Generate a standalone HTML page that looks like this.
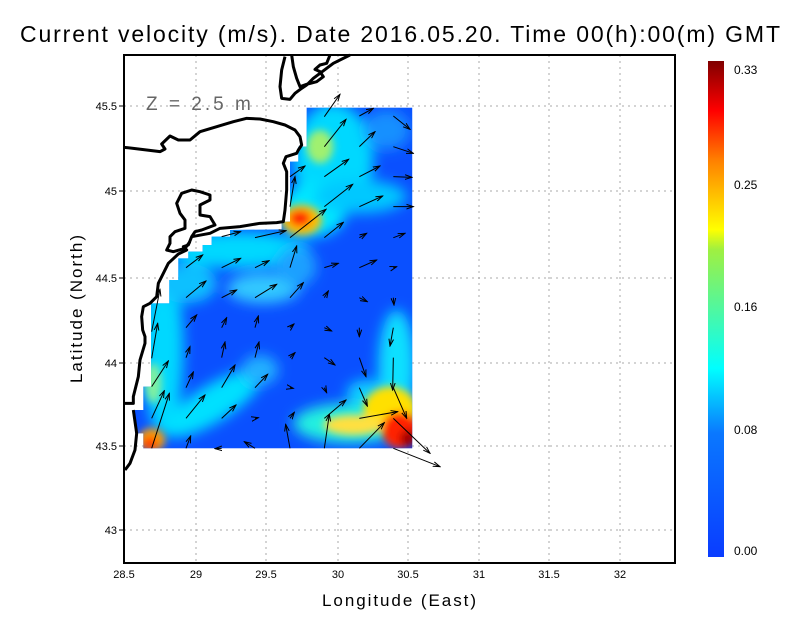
<!DOCTYPE html>
<html><head><meta charset="utf-8"><style>
html,body{margin:0;padding:0;background:#fff;}
svg{display:block;font-family:"Liberation Sans",sans-serif;}
</style></head><body>
<svg width="800" height="618" viewBox="0 0 800 618" xmlns="http://www.w3.org/2000/svg">
<defs>
<filter id="bl" x="-50%" y="-50%" width="200%" height="200%"><feGaussianBlur stdDeviation="20"/></filter>
<filter id="bl2" x="-50%" y="-50%" width="200%" height="200%"><feGaussianBlur stdDeviation="12"/></filter>
<clipPath id="dc"><polygon points="560,173 877,173 877,1195 70,1195 70,1150 45,1150 45,1080 70,1080 70,1010 93,1010 93,760 148,760 148,690 175,690 175,625 205,625 205,605 248,605 248,585 275,585 275,560 330,560 330,540 485,538 485,515 510,515 510,335 535,335 535,290 560,290"/></clipPath>
<marker id="ah" markerWidth="24" markerHeight="24" refX="21" refY="12" orient="auto" markerUnits="userSpaceOnUse"><path d="M0,5 L21,12 L0,19" fill="none" stroke="#000" stroke-width="3"/></marker>
<linearGradient id="cb" x1="0" y1="1" x2="0" y2="0">
<stop offset="0" stop-color="#0a3cff"/><stop offset="0.25" stop-color="#0a78ff"/><stop offset="0.38" stop-color="#00ffff"/><stop offset="0.62" stop-color="#a0f040"/><stop offset="0.66" stop-color="#ffff00"/><stop offset="0.8" stop-color="#ff8000"/><stop offset="0.9" stop-color="#ff0000"/><stop offset="1" stop-color="#800000"/></linearGradient>
</defs>
<text x="20" y="42" font-size="23" textLength="760" lengthAdjust="spacing" fill="#000">Current velocity (m/s). Date 2016.05.20. Time 00(h):00(m) GMT</text>
<g stroke="#aaa" stroke-dasharray="2,4" stroke-width="1">
<line x1="196" y1="55" x2="196" y2="563"/><line x1="266" y1="55" x2="266" y2="563"/><line x1="338" y1="55" x2="338" y2="563"/><line x1="408" y1="55" x2="408" y2="563"/><line x1="479" y1="55" x2="479" y2="563"/><line x1="549" y1="55" x2="549" y2="563"/><line x1="620" y1="55" x2="620" y2="563"/>
<line x1="124" y1="106" x2="675" y2="106"/><line x1="124" y1="191" x2="675" y2="191"/><line x1="124" y1="278" x2="675" y2="278"/><line x1="124" y1="363" x2="675" y2="363"/><line x1="124" y1="446" x2="675" y2="446"/><line x1="124" y1="530" x2="675" y2="530"/>
</g>
<g transform="translate(120,50) scale(0.33333)">
<g clip-path="url(#dc)">
<rect x="0" y="150" width="900" height="1060" fill="#0a50ff"/>
<g filter="url(#bl)">
<ellipse cx="640" cy="330" rx="120" ry="170" fill="#00d8ff"/>
<ellipse cx="800" cy="240" rx="70" ry="60" fill="#1890ff"/>
<ellipse cx="580" cy="480" rx="100" ry="80" fill="#00e8ff"/>
<ellipse cx="720" cy="440" rx="140" ry="50" fill="#00c8ff"/>
<ellipse cx="360" cy="600" rx="210" ry="55" fill="#00d8ff"/>
<ellipse cx="430" cy="715" rx="110" ry="45" fill="#30c8ff"/>
<ellipse cx="530" cy="650" rx="60" ry="60" fill="#1aa0ff"/>
<ellipse cx="130" cy="900" rx="60" ry="260" fill="#00d8ff"/>
<ellipse cx="200" cy="700" rx="90" ry="60" fill="#10c0ff"/>
<ellipse cx="280" cy="1060" rx="170" ry="55" fill="#00e0ff" transform="rotate(-32 280 1060)"/>
<ellipse cx="420" cy="960" rx="55" ry="45" fill="#20b0ff"/>
<ellipse cx="690" cy="1120" rx="170" ry="60" fill="#20f0e0"/>
<ellipse cx="830" cy="950" rx="55" ry="170" fill="#10e0ff"/>
<ellipse cx="740" cy="1030" rx="60" ry="40" fill="#10d0ff"/>
</g>
<g filter="url(#bl2)">
<ellipse cx="600" cy="290" rx="40" ry="50" fill="#a0f070"/>
<ellipse cx="545" cy="510" rx="60" ry="45" fill="#ffc000"/>
<ellipse cx="540" cy="505" rx="32" ry="24" fill="#ff2000"/>
<ellipse cx="810" cy="1080" rx="80" ry="70" fill="#ffe000"/>
<ellipse cx="700" cy="1125" rx="90" ry="30" fill="#ffe040"/>
<ellipse cx="840" cy="1140" rx="55" ry="55" fill="#ff2000"/>
<ellipse cx="865" cy="1165" rx="25" ry="25" fill="#a00000"/>
<ellipse cx="95" cy="1170" rx="40" ry="35" fill="#ffa000"/>
<ellipse cx="90" cy="1180" rx="22" ry="20" fill="#ff3000"/>
<ellipse cx="100" cy="1000" rx="25" ry="60" fill="#80f0a0"/>
</g>
</g>
<g fill="none" stroke="#000" stroke-width="9" stroke-linejoin="round">
<polyline points="12,292 40,295 80,300 120,305 135,297 125,282 150,258 175,270 210,270 240,245 290,230 340,215 380,205 420,207 460,215 495,225 525,240 540,260 545,285 535,300 530,310 498,320 490,340 500,365 500,420 495,480 490,515 470,518 420,520 360,530 300,535 270,550 215,560 205,585 190,590 200,600 175,612 145,640 125,680 115,700 110,740 90,760 70,770 65,800 68,840 75,860 75,880 60,930 55,980 40,1040 40,1060 10,1060"/>
<polyline points="40,1080 50,1150 45,1200 30,1240 15,1260"/>
<polyline points="215,560 225,545 245,540 285,525 270,500 240,495 240,465 270,450 270,435 240,425 215,420 185,430 170,460 180,490 195,510 195,535 165,545 150,560 150,580 140,600 160,605 195,595 210,575"/>
<polyline points="495,20 485,60 480,110 485,145 510,148 525,130 545,115 560,105 580,85 600,70 640,40 690,15"/>
<polyline points="515,15 520,50 530,85 540,110 560,103 590,95 610,80 600,65 585,58 600,45 620,40 630,15"/>
</g>
<g stroke="#000" stroke-width="3" fill="none" marker-end="url(#ah)">
<path d="M613,200L660,133"/><path d="M613,290L678,208"/><path d="M718,198L760,175"/><path d="M820,198L870,238"/><path d="M718,290L765,245"/><path d="M820,290L880,310"/><path d="M613,380L686,328"/><path d="M510,380L555,348"/><path d="M718,380L780,348"/><path d="M820,380L876,382"/><path d="M613,470L698,403"/><path d="M510,470L525,380"/><path d="M718,470L788,438"/><path d="M820,470L880,470"/><path d="M510,563L618,478"/><path d="M405,563L498,542"/><path d="M305,560L362,545"/><path d="M613,563L670,517"/><path d="M718,563L740,550"/><path d="M820,563L855,550"/><path d="M198,653L248,615"/><path d="M305,653L362,625"/><path d="M405,653L447,632"/><path d="M510,653L530,588"/><path d="M613,653L655,640"/><path d="M718,653L770,630"/><path d="M820,653L830,650"/><path d="M198,743L258,693"/><path d="M305,743L350,720"/><path d="M405,743L470,703"/><path d="M510,743L550,698"/><path d="M613,743L625,723"/><path d="M718,743L742,755"/><path d="M820,743L822,765"/><path d="M95,845L120,718"/><path d="M198,833L230,795"/><path d="M305,833L320,803"/><path d="M405,833L415,798"/><path d="M510,833L522,822"/><path d="M613,833L635,843"/><path d="M718,833L718,860"/><path d="M820,833L810,888"/><path d="M95,925L113,820"/><path d="M198,923L210,890"/><path d="M305,923L315,876"/><path d="M405,923L417,876"/><path d="M510,923L525,908"/><path d="M613,923L645,945"/><path d="M718,923L738,980"/><path d="M820,923L818,1020"/><path d="M95,1010L145,933"/><path d="M198,1013L220,966"/><path d="M305,1013L345,945"/><path d="M405,1013L443,973"/><path d="M510,1013L520,1015"/><path d="M613,1013L620,1028"/><path d="M718,1013L742,1068"/><path d="M820,1013L860,1105"/><path d="M95,1105L133,1022"/><path d="M198,1105L255,1035"/><path d="M305,1105L348,1065"/><path d="M405,1105L415,1103"/><path d="M510,1105L523,1087"/><path d="M613,1105L678,1050"/><path d="M718,1105L833,1085"/><path d="M820,1105L930,1210"/><path d="M95,1195L148,1030"/><path d="M198,1195L212,1158"/><path d="M305,1195L285,1196"/><path d="M405,1195L373,1175"/><path d="M510,1195L497,1123"/><path d="M613,1195L628,1093"/><path d="M718,1195L793,1118"/><path d="M820,1195L960,1250"/>
</g>
</g>
<text x="146" y="110" font-size="19" fill="#666" letter-spacing="3">Z = 2.5 m</text>
<rect x="124" y="55" width="551" height="508" fill="none" stroke="#000" stroke-width="2"/>
<g stroke="#000" stroke-width="1">
<line x1="124" y1="106" x2="119" y2="106"/><line x1="124" y1="191" x2="119" y2="191"/><line x1="124" y1="278" x2="119" y2="278"/><line x1="124" y1="363" x2="119" y2="363"/><line x1="124" y1="446" x2="119" y2="446"/><line x1="124" y1="530" x2="119" y2="530"/>
</g>
<g font-size="11" fill="#000" text-anchor="end">
<text x="117" y="110">45.5</text><text x="117" y="195">45</text><text x="117" y="282">44.5</text><text x="117" y="367">44</text><text x="117" y="450">43.5</text><text x="117" y="534">43</text>
</g>
<g font-size="11" fill="#000" text-anchor="middle">
<text x="124" y="578">28.5</text><text x="196" y="578">29</text><text x="266" y="578">29.5</text><text x="338" y="578">30</text><text x="408" y="578">30.5</text><text x="479" y="578">31</text><text x="549" y="578">31.5</text><text x="620" y="578">32</text>
</g>
<text x="322" y="606" font-size="17" textLength="154" lengthAdjust="spacing">Longitude (East)</text>
<text transform="translate(82,383) rotate(-90)" font-size="17" textLength="148" lengthAdjust="spacing">Latitude (North)</text>
<rect x="708" y="61" width="16" height="496" fill="url(#cb)"/>
<g font-size="12" fill="#000">
<text x="734" y="74">0.33</text><text x="734" y="189">0.25</text><text x="734" y="311">0.16</text><text x="734" y="434">0.08</text><text x="734" y="555">0.00</text>
</g>
</svg>
</body></html>
